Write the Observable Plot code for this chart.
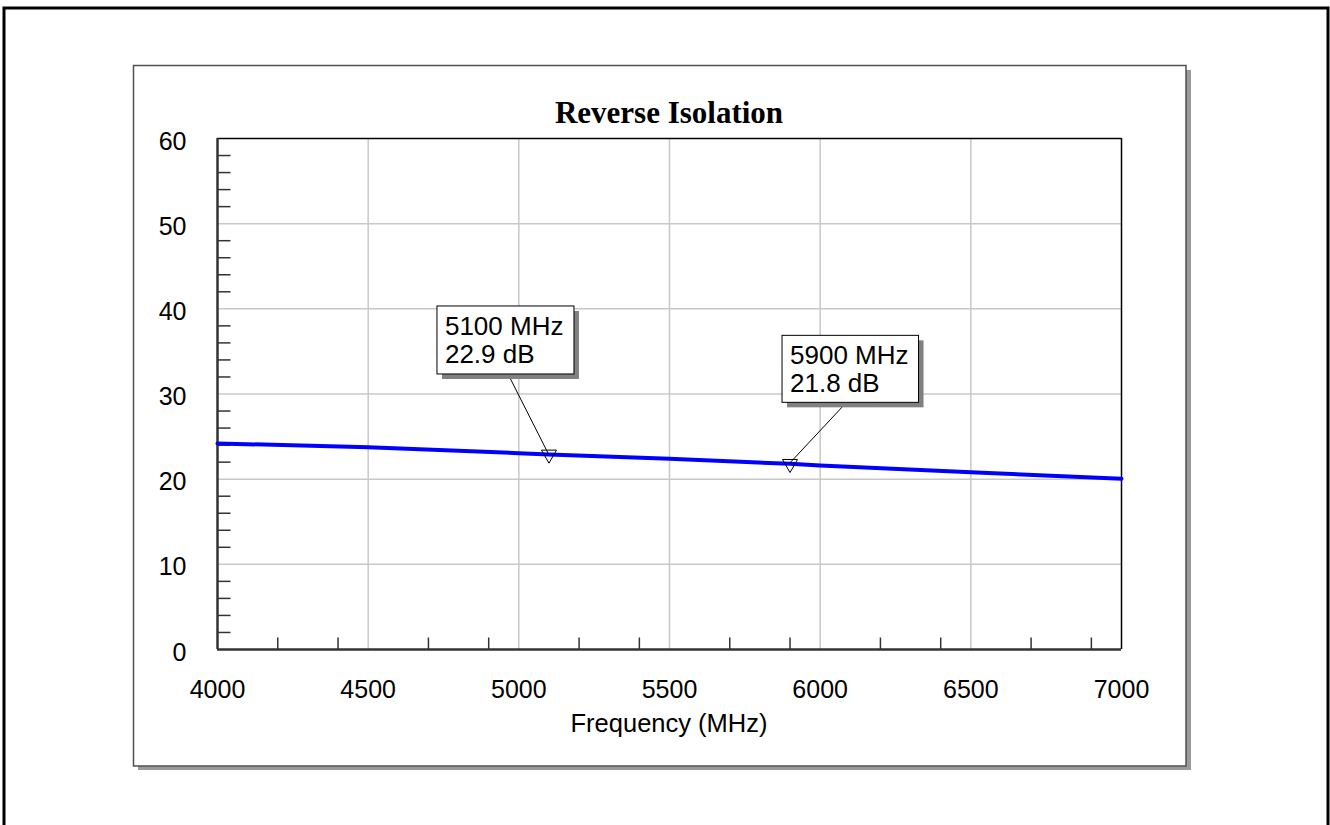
<!DOCTYPE html>
<html><head><meta charset="utf-8">
<script src="https://cdn.jsdelivr.net/npm/d3@7"></script>
<script src="https://cdn.jsdelivr.net/npm/@observablehq/plot@0.6"></script>
<style>html,body{margin:0;padding:0;background:#fff;overflow:hidden}</style>
</head><body><div id="chart"></div>
<script>
// ---- data ----
const title = "Reverse Isolation";
const xLabel = "Frequency (MHz)";
const freq = [4000, 4500, 5000, 5100, 5500, 5900, 6000, 6500, 7000];
const isolation = [24.2, 23.75, 23.05, 22.9, 22.4, 21.8, 21.6, 20.8, 20.05];
const xTicks = [4000, 4500, 5000, 5500, 6000, 6500, 7000];
const yTicks = [0, 10, 20, 30, 40, 50, 60];
const xMinor = [4200, 4400, 4700, 4900, 5200, 5400, 5700, 5900, 6200, 6400, 6700, 6900];
const yMinor = [2,4,6,8,12,14,16,18,22,24,26,28,32,34,36,38,42,44,46,48,52,54,56,58];
const markerFreq = [5100, 5900];
const markerVal = [22.9, 21.8];
const markerText = [["5100 MHz", "22.9 dB"], ["5900 MHz", "21.8 dB"]];

// ---- layout ----
const W = 1330, H = 825;
const sans = "'Liberation Sans', Arial, sans-serif";
const data = freq.map((f, i) => ({f, v: isolation[i]}));
const markers = markerFreq.map((f, i) => ({f, v: markerVal[i]}));
const tickRight = {draw(ctx) { ctx.moveTo(0, 0); ctx.lineTo(13, 0); }};
const tickUp = {draw(ctx) { ctx.moveTo(0, 0); ctx.lineTo(0, -12); }};

const plot = Plot.plot({
  width: W, height: H,
  marginLeft: 217, marginRight: 209, marginTop: 138, marginBottom: 176,
  style: {fontFamily: sans, fontSize: "25px", background: "transparent", color: "#000", overflow: "visible"},
  x: {domain: [4000, 7000], label: null},
  y: {domain: [0, 60], label: null},
  marks: [
    Plot.gridX({ticks: xTicks.slice(1, -1), stroke: "#c8c8c8", strokeOpacity: 1, strokeWidth: 1.5}),
    Plot.gridY({ticks: yTicks.slice(1, -1), stroke: "#c8c8c8", strokeOpacity: 1, strokeWidth: 1.5}),
    Plot.axisX({ticks: xTicks, tickSize: 0, tickPadding: 31, label: null, fontSize: 25, tickFormat: d => String(d)}),
    Plot.axisY({ticks: yTicks, tickSize: 0, tickPadding: 31, label: null, fontSize: 25, dy: 3, tickFormat: d => String(d)}),
    Plot.dot(yMinor, {x: 4000, y: d => d, symbol: tickRight, r: 1, stroke: "#333", strokeWidth: 1.5, fill: "none"}),
    Plot.dot(xMinor, {x: d => d, y: 0, symbol: tickUp, r: 1, stroke: "#333", strokeWidth: 1.5, fill: "none"}),
    Plot.ruleY([60], {stroke: "#000", strokeWidth: 1.5}),
    Plot.ruleX([7000], {stroke: "#000", strokeWidth: 1.5}),
    Plot.ruleX([4000], {stroke: "#333", strokeWidth: 2.5}),
    Plot.ruleY([0], {stroke: "#333", strokeWidth: 2.5}),
    Plot.line(data, {x: "f", y: "v", stroke: "#0000ff", strokeWidth: 4}),
    Plot.dot(markers, {x: "f", y: "v", symbol: "triangle", rotate: 180, r: 5.6, stroke: "#000", strokeWidth: 1, fill: "none"})
  ]
});
document.getElementById("chart").appendChild(plot);

const svg = d3.select(plot);
const xs = plot.scale("x"), ys = plot.scale("y");

// background decorations (inserted at the back)
const bg = svg.insert("g", ":first-child");
bg.append("rect").attr("x", 4).attr("y", 8).attr("width", 1324).attr("height", 840)
  .attr("fill", "#fff").attr("stroke", "#000").attr("stroke-width", 3);
bg.append("rect").attr("x", 138).attr("y", 70).attr("width", 1053).attr("height", 700).attr("fill", "#9a9a9a");
bg.append("rect").attr("x", 133.5).attr("y", 65.5).attr("width", 1052.5).attr("height", 700.5)
  .attr("fill", "#fff").attr("stroke", "#505050").attr("stroke-width", 1.5);

// title and axis label
svg.append("text").attr("x", (xs.apply(4000) + xs.apply(7000)) / 2).attr("y", 123)
  .attr("text-anchor", "middle").attr("font-family", "'Liberation Serif', 'Times New Roman', serif")
  .attr("font-weight", "bold").attr("font-size", 31).attr("fill", "#000").text(title);
svg.append("text").attr("x", (xs.apply(4000) + xs.apply(7000)) / 2).attr("y", 732)
  .attr("text-anchor", "middle").attr("font-family", sans).attr("font-size", 25.5).attr("fill", "#000").text(xLabel);

// marker annotations
const boxLayout = [
  {bx: -111.5, by: -148, w: 137, h: 68, lx: -40.5, ly: -80},
  {bx: -7.5, by: -128, w: 136.5, h: 67, lx: 57, ly: -61}
];
const ann = svg.append("g").attr("text-anchor", "start");
markers.forEach((m, i) => {
  const px = xs.apply(m.f), py = ys.apply(m.v), L = boxLayout[i];
  ann.append("line").attr("x1", px + L.lx).attr("y1", py + L.ly).attr("x2", px).attr("y2", py)
    .attr("stroke", "#000").attr("stroke-width", 1);
  ann.append("rect").attr("x", px + L.bx + 5).attr("y", py + L.by + 5).attr("width", L.w).attr("height", L.h).attr("fill", "#808080");
  ann.append("rect").attr("x", px + L.bx).attr("y", py + L.by).attr("width", L.w).attr("height", L.h)
    .attr("fill", "#fff").attr("stroke", "#000").attr("stroke-width", 1);
  markerText[i].forEach((t, j) => {
    ann.append("text").attr("x", px + L.bx + 8).attr("y", py + L.by + 29 + 28 * j)
      .attr("text-anchor", "start").attr("font-family", sans).attr("font-size", 26).attr("fill", "#000").text(t);
  });
});
</script>
</body></html>
